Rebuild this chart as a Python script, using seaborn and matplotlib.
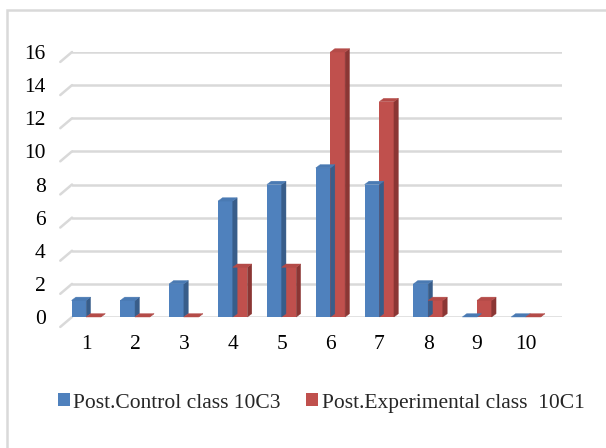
import matplotlib
matplotlib.use("Agg")
import matplotlib.pyplot as plt
import seaborn as sns
import pandas as pd
from matplotlib.patches import Polygon, Rectangle

categories = ["1", "2", "3", "4", "5", "6", "7", "8", "9", "10"]
control = [1, 1, 2, 7, 8, 9, 8, 2, 0, 0]
experimental = [0, 0, 0, 3, 3, 16, 13, 1, 1, 0]
series_names = ["Post.Control class 10C3", "Post.Experimental class  10C1"]
yticks = [0, 2, 4, 6, 8, 10, 12, 14, 16]

front_colors = ["#4F81BD", "#C0504D"]
side_colors = ["#385D8A", "#8B3634"]
top_colors = ["#4A7AB3", "#B44B48"]

df = pd.DataFrame({
    "cat": categories * 2,
    "value": control + experimental,
    "series": [series_names[0]] * len(categories) + [series_names[1]] * len(categories),
})

sns.set_style("white")
plt.rcParams["font.family"] = ["Liberation Serif", "DejaVu Serif"]

fig = plt.figure(figsize=(6.06, 4.48), dpi=100)
ax = fig.add_axes([72 / 606, 1 - 317 / 448, (562 - 72) / 606, (317 - 52) / 448])

sns.barplot(data=df, x="cat", y="value", hue="series", palette=front_colors,
            saturation=1, width=0.6, ax=ax, legend=False, zorder=3)

# 3D-like side and top faces derived from each bar
dx, dy = 0.09, 0.2
n = len(categories)
for i, p in enumerate(ax.patches):
    s = 0 if i < n else 1
    x0, w, h = p.get_x(), p.get_width(), p.get_height()
    p.set_clip_on(False)
    p.set_linewidth(0)
    side = Polygon([(x0 + w, 0), (x0 + w + dx, dy), (x0 + w + dx, h + dy), (x0 + w, h)],
                   closed=True, facecolor=side_colors[s], edgecolor=side_colors[s], lw=0.3,
                   zorder=3, clip_on=False)
    top = Polygon([(x0, h), (x0 + dx, h + dy), (x0 + w + dx, h + dy), (x0 + w, h)],
                  closed=True, facecolor=top_colors[s], edgecolor=top_colors[s], lw=0.3,
                  zorder=3, clip_on=False)
    ax.add_patch(side)
    ax.add_patch(top)

ax.set_xlim(-0.29, 9.74)
ax.set_ylim(0, 16)
ax.set_yticks(yticks)
ax.set_yticklabels([str(t) for t in yticks])
for sp in ax.spines.values():
    sp.set_visible(False)
ax.grid(False)
for t in yticks:
    ax.axhline(t, color="#D9D9D9", lw=1.8, zorder=1)
    ax.plot([-0.53, -0.29], [t - 0.6, t], color="#D9D9D9", lw=1.8, clip_on=False, zorder=1)

ax.tick_params(axis="both", length=0, labelsize=15.5, colors="black")
ax.tick_params(axis="y", pad=19)
ax.tick_params(axis="x", pad=13)
ax.set_xlabel("")
ax.set_ylabel("")

handles = [Rectangle((0, 0), 1, 1, facecolor=c, edgecolor="none") for c in front_colors]
fig.legend(handles, series_names, loc="center", bbox_to_anchor=(0.53, 1 - 403 / 448),
           ncol=2, frameon=False, fontsize=15.5, handlelength=0.55, handleheight=0.55,
           handletextpad=0.15, columnspacing=1.2)

fig.patches.append(Rectangle((7 / 606, -0.1), 1.2, 1 - 10 / 448 + 0.1, transform=fig.transFigure,
                             facecolor="none", edgecolor="#D9D9D9", lw=1.8, zorder=0))

fig.savefig("out.png", dpi=100)
